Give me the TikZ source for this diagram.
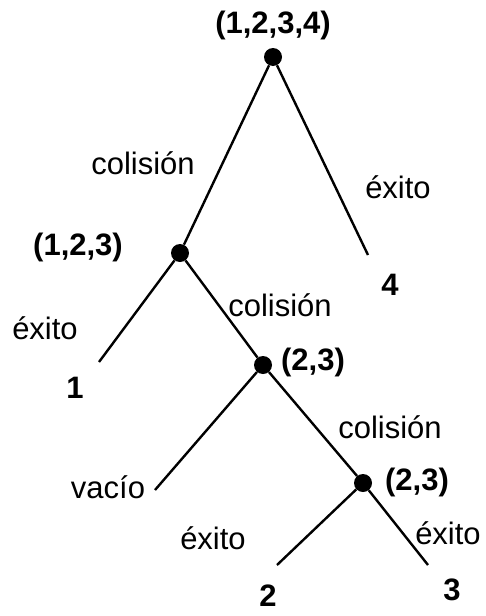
\documentclass[tikz,border=0pt]{standalone}
\usepackage{fontspec}
\setmainfont{Liberation Sans}
\usepackage{xcolor}
\usepackage{tikz}
\usetikzlibrary{positioning}
\definecolor{trink}{HTML}{000000}

\tikzset{
  dotnode/.style={circle,fill=trink,inner sep=0pt,minimum size=18pt},
  branch/.style={draw=trink,line width=2.4pt},
  setlabel/.style={font=\fontsize{31}{36}\selectfont\bfseries,text=trink,inner sep=0.5pt},
  edgelabel/.style={font=\fontsize{31}{36}\selectfont,text=trink,inner sep=0.5pt}
}

\begin{document}
\begin{tikzpicture}[x=1pt,y=-1pt]
      \useasboundingbox (0,0) rectangle (485,616);
      % tree nodes
      \node[dotnode] (root) at (273,57) {};
      \node[dotnode] (n123) at (180,253) {};
      \node[dotnode] (n23a) at (263,365) {};
      \node[dotnode] (n23b) at (363,483) {};
      \coordinate (leaf4) at (368,255);
      \coordinate (leaf1) at (99,362);
      \coordinate (leafv) at (155,490);
      \coordinate (leaf2) at (277,565);
      \coordinate (leaf3) at (428,565);
      % branches
      \draw[branch] (root) -- (n123);
      \draw[branch] (root) -- (leaf4);
      \draw[branch] (n123) -- (leaf1);
      \draw[branch] (n123) -- (n23a);
      \draw[branch] (n23a) -- (leafv);
      \draw[branch] (n23a) -- (n23b);
      \draw[branch] (n23b) -- (leaf2);
      \draw[branch] (n23b) -- (leaf3);
      % sets
      \node[setlabel] (s1234) at (273,25) {(1,2,3,4)};
      \node[setlabel] (s123) at (78,247) {(1,2,3)};
      \node[setlabel] (s23a) at (313,362) {(2,3)};
      \node[setlabel] (s23b) at (417,482) {(2,3)};
      \node[setlabel] (t4) at (390,285) {4};
      \node[setlabel] (t1) at (75,388) {1};
      \node[setlabel] (t2) at (268,596) {2};
      \node[setlabel] (t3) at (452,590) {3};
      % outcomes
      \node[edgelabel] (c1) at (143,163) {colisión};
      \node[edgelabel] (e4) at (398,187) {éxito};
      \node[edgelabel] (e1) at (45,328) {éxito};
      \node[edgelabel] (c2) at (280,305) {colisión};
      \node[edgelabel] (vac) at (108,487) {vacío};
      \node[edgelabel] (c3) at (390,427) {colisión};
      \node[edgelabel] (e2) at (213,538) {éxito};
      \node[edgelabel] (e3) at (448,533) {éxito};
    \end{tikzpicture}
\end{document}
